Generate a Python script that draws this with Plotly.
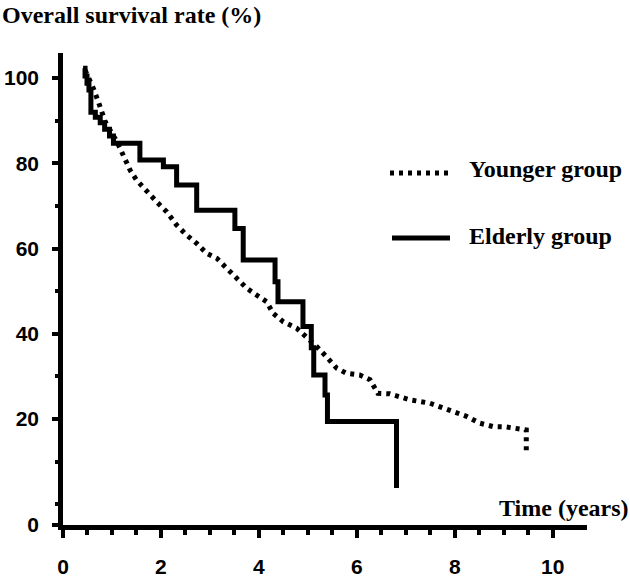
import plotly.graph_objects as go

# ---- data ----
younger_time = [0.45, 0.55, 0.62, 0.72, 0.79, 0.86, 0.96, 1.10, 1.23, 1.37, 1.50, 1.71, 1.91,
                2.12, 2.32, 2.52, 2.73, 2.93, 3.14, 3.34, 3.54, 3.75, 3.95, 4.16, 4.29, 4.50,
                4.77, 4.97, 5.18, 5.38, 5.59, 5.79, 6.06, 6.27, 6.43, 6.67, 7.08, 7.49, 7.90,
                8.24, 8.51, 8.78, 9.06, 9.26, 9.46, 9.46]
younger_surv = [101.9, 99.5, 97.6, 94.5, 92.5, 89.8, 87.8, 85.1, 81.9, 78.4, 76.1, 73.7, 71.0,
                68.6, 65.5, 63.2, 61.2, 58.9, 57.7, 55.4, 53.0, 50.7, 49.1, 47.5, 44.8, 42.8,
                41.3, 39.3, 37.0, 34.6, 31.9, 30.7, 30.3, 29.2, 26.0, 25.9, 24.5, 23.7, 22.1,
                20.6, 19.0, 18.2, 18.1, 17.8, 17.4, 11.8]

elderly_time = [0.41, 0.45, 0.49, 0.53, 0.57, 0.66, 0.76, 0.85, 0.95, 1.03, 1.57, 2.05, 2.32,
                2.73, 3.51, 3.68, 4.33, 4.39, 4.90, 5.07, 5.12, 5.35, 5.40, 6.81]
elderly_surv = [102.3, 100.5, 98.8, 97.2, 92.0, 90.8, 89.5, 88.0, 86.4, 84.7, 80.8, 79.2, 74.9,
                69.0, 64.7, 57.3, 52.2, 47.5, 41.7, 36.7, 30.3, 25.6, 19.4, 3.8]

series_names = ["Younger group", "Elderly group"]
x_tick_vals = [0, 2, 4, 6, 8, 10]
x_tick_text = ["0", "2", "4", "6", "8", "10"]
x_minor_vals = [0.5, 1, 1.5, 2.5, 3, 3.5, 4.5, 5, 5.5, 6.5, 7, 7.5, 8.5, 9, 9.5]
y_tick_vals = [20, 40, 60, 80, 100]
y_tick_text = ["20", "40", "60", "80", "100"]
y_minor_vals = [0, 10, 30, 50, 70, 90]
y_origin_label = "0"
y_title = "Overall survival rate (%)"
x_title = "Time (years)"

# ---- layout geometry ----
W, H = 630, 579
L, R, T, B = 63, 43, 53, 54
X_RANGE = [0, 10.7]
Y_RANGE = [-4.9, 105.9]

def px_to_paper_x(px):
    return (px - L) / (W - L - R)

def px_to_paper_y(py):
    return (H - B - py) / (H - T - B)

serif = "Liberation Serif"
tickfont = dict(family="Liberation Sans", size=21, color="black", weight="bold")

fig = go.Figure()
fig.add_trace(go.Scatter(
    x=younger_time, y=younger_surv, mode="lines", name=series_names[0],
    line=dict(color="black", width=5, dash="4px,5px"), showlegend=False))
fig.add_trace(go.Scatter(
    x=elderly_time, y=elderly_surv, mode="lines", name=series_names[1],
    line=dict(color="black", width=5, shape="hv"), showlegend=False))

fig.update_xaxes(
    range=X_RANGE, showgrid=False, zeroline=False, automargin=False,
    showline=True, linecolor="black", linewidth=4.5,
    tickmode="array", tickvals=x_tick_vals, ticktext=x_tick_text,
    ticks="outside", ticklen=8, tickwidth=4, tickcolor="black",
    tickfont=tickfont, ticklabelstandoff=11,
    minor=dict(tickmode="array", tickvals=x_minor_vals, ticks="outside",
               ticklen=5, tickwidth=4, tickcolor="black"),
)
fig.update_yaxes(
    range=Y_RANGE, showgrid=False, zeroline=False, automargin=False,
    showline=True, linecolor="black", linewidth=4.5,
    tickmode="array", tickvals=[Y_RANGE[0]] + y_tick_vals,
    ticktext=[y_origin_label] + y_tick_text,
    ticks="outside", ticklen=6, tickwidth=4, tickcolor="black",
    tickfont=tickfont, ticklabelstandoff=9,
    minor=dict(tickmode="array", tickvals=y_minor_vals, ticks="outside",
               ticklen=3, tickwidth=4, tickcolor="black"),
)

# legend keys
fig.add_shape(type="line", xref="paper", yref="paper",
              x0=px_to_paper_x(390), x1=px_to_paper_x(452),
              y0=px_to_paper_y(173), y1=px_to_paper_y(173),
              line=dict(color="black", width=5, dash="4px,5px"))
fig.add_shape(type="line", xref="paper", yref="paper",
              x0=px_to_paper_x(392), x1=px_to_paper_x(450),
              y0=px_to_paper_y(238), y1=px_to_paper_y(238),
              line=dict(color="black", width=5))

annotations = [
    dict(text=series_names[0], x=px_to_paper_x(467), y=px_to_paper_y(169),
         xanchor="left", yanchor="middle"),
    dict(text=series_names[1], x=px_to_paper_x(467), y=px_to_paper_y(236),
         xanchor="left", yanchor="middle"),
    dict(text=y_title, x=px_to_paper_x(0), y=px_to_paper_y(15),
         xanchor="left", yanchor="middle"),
    dict(text=x_title, x=px_to_paper_x(631), y=px_to_paper_y(508),
         xanchor="right", yanchor="middle"),
]
for a in annotations:
    fig.add_annotation(xref="paper", yref="paper", showarrow=False,
                       font=dict(family=serif, size=24, color="black", weight="bold"),
                       **a)

fig.update_layout(
    width=W, height=H, margin=dict(l=L, r=R, t=T, b=B),
    plot_bgcolor="white", paper_bgcolor="white",
)

fig.write_html("out.html", config={"displayModeBar": False},
               post_script="document.body.style.margin='0';")
